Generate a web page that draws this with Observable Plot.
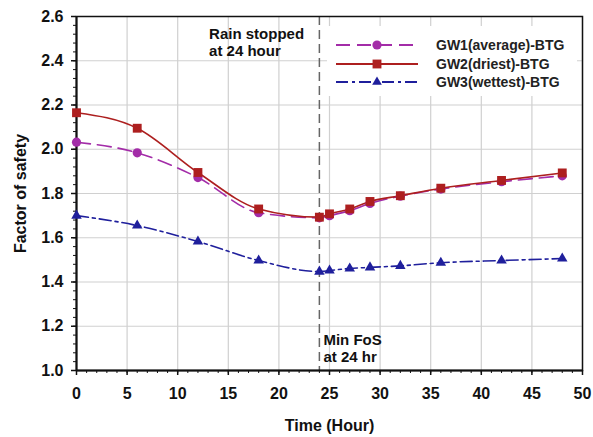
<!DOCTYPE html>
<html>
<head>
<meta charset="utf-8">
<script src="https://cdn.jsdelivr.net/npm/d3@7"></script>
<script src="https://cdn.jsdelivr.net/npm/@observablehq/plot@0.6"></script>
<style>
  body { margin: 0; background: #fff; }
  #wrap { position: relative; width: 593px; height: 437px; font-family: "Liberation Sans", Arial, sans-serif; }
  #legend { position: absolute; left: 327px; top: 26px; width: 250px; height: 70px; background: #fff; }
  .row { position: absolute; left: 0; height: 18px; display: flex; align-items: center; }
  .row span { font-weight: bold; font-size: 14px; color: #222; margin-left: 18px; }
</style>
</head>
<body>
<div id="wrap"><div id="legend"></div></div>
<script>
const hours = [0, 6, 12, 18, 24, 25, 27, 29, 32, 36, 42, 48];
const gw1 = [2.032, 1.984, 1.872, 1.713, 1.690, 1.700, 1.722, 1.755, 1.788, 1.820, 1.853, 1.880];
const gw2 = [2.165, 2.095, 1.895, 1.730, 1.693, 1.708, 1.730, 1.764, 1.790, 1.824, 1.859, 1.893];
const gw3 = [1.700, 1.655, 1.583, 1.497, 1.447, 1.452, 1.461, 1.466, 1.473, 1.487, 1.497, 1.506];
const seriesNames = ["GW1(average)-BTG", "GW2(driest)-BTG", "GW3(wettest)-BTG"];
const seriesColors = ["#a32ca8", "#ad1f1f", "#1f1f9c"];
const seriesDash = ["14,7", null, "12,4,3,4"];
const seriesSymbols = ["circle", "square", "triangle"];
const seriesR = [4.6, 5, 3.9];
const xTicks = [0, 5, 10, 15, 20, 25, 30, 35, 40, 45, 50];
const yTicks = [1.0, 1.2, 1.4, 1.6, 1.8, 2.0, 2.2, 2.4, 2.6];
const rainStop = 24;
const notes = [
  {x: 13.1, y: 2.485, text: "Rain stopped\nat 24 hour"},
  {x: 24.4, y: 1.102, text: "Min FoS\nat 24 hr"}
];

const allSeries = [gw1, gw2, gw3];
const rows = [];
allSeries.forEach((vals, i) => hours.forEach((h, j) => rows.push({series: seriesNames[i], idx: i, x: h, y: vals[j]})));

const minorX = d3.range(0, 51, 1);
const minorY = d3.range(0, 41).map(i => +(1 + i * 0.04).toFixed(2));

const marks = [
  Plot.gridX(xTicks, {stroke: "#d0d0d0", strokeOpacity: 1, strokeWidth: 1.2}),
  Plot.gridY(yTicks, {stroke: "#d0d0d0", strokeOpacity: 1, strokeWidth: 1.2}),
  Plot.axisX(minorX, {tickSize: 3, text: null, label: null, strokeWidth: 1}),
  Plot.axisY(minorY, {tickSize: 3, text: null, label: null, strokeWidth: 1}),
  Plot.axisX(xTicks, {tickSize: 5, tickPadding: 12, strokeWidth: 1.5, fontSize: 16, fontWeight: "bold",
    label: "Time (Hour)", labelAnchor: "center", labelOffset: 60, labelArrow: "none", tickFormat: d3.format("d")}),
  Plot.axisY(yTicks, {tickSize: 5, tickPadding: 8, strokeWidth: 1.5, fontSize: 16, fontWeight: "bold",
    label: "Factor of safety", labelAnchor: "center", labelOffset: 62, labelArrow: "none", tickFormat: d3.format(".1f")}),
  Plot.ruleX([rainStop], {stroke: "#666", strokeWidth: 1.5, strokeDasharray: "9,5"}),
  Plot.frame({stroke: "#111", strokeWidth: 1.5}),
  Plot.ruleX([0], {stroke: "#111", strokeWidth: 2}),
  Plot.ruleY([1.0], {stroke: "#111", strokeWidth: 2})
];
seriesNames.forEach((name, i) => {
  const d = rows.filter(r => r.idx === i);
  marks.push(Plot.line(d, {x: "x", y: "y", stroke: seriesColors[i], strokeWidth: 1.6, curve: "monotone-x",
    strokeDasharray: seriesDash[i] || undefined}));
});
seriesNames.forEach((name, i) => {
  const d = rows.filter(r => r.idx === i);
  marks.push(Plot.dot(d, {x: "x", y: "y", fill: seriesColors[i], stroke: "none", symbol: seriesSymbols[i],
    r: seriesR[i]}));
});
marks.push(Plot.text(notes, {x: "x", y: "y", text: "text", textAnchor: "start", fontSize: 15, fontWeight: "bold",
  fill: "#111", lineHeight: 1.15}));

const chart = Plot.plot({
  width: 593,
  height: 437,
  marginLeft: 76,
  marginRight: 11,
  marginTop: 16,
  marginBottom: 67,
  x: {domain: [0, 50]},
  y: {domain: [1.0, 2.6]},
  style: {fontFamily: "'Liberation Sans', Arial, sans-serif", fontWeight: "bold", fontSize: "16px", color: "#111", background: "#fff"},
  marks
});
document.getElementById("wrap").prepend(chart);

// legend
const legend = document.getElementById("legend");
const symPath = {
  circle: d3.symbol(d3.symbolCircle, Math.PI * 4.6 * 4.6)(),
  square: d3.symbol(d3.symbolSquare, Math.PI * 5 * 5)(),
  triangle: d3.symbol(d3.symbolTriangle, Math.PI * 3.6 * 3.6)()
};
seriesNames.forEach((name, i) => {
  const row = document.createElement("div");
  row.className = "row";
  row.style.top = (10 + i * 18.5) + "px";
  const dash = seriesDash[i] ? `stroke-dasharray="${seriesDash[i]}"` : "";
  row.innerHTML = `<svg width="82" height="18" style="margin-left:9px"><line x1="0" x2="82" y1="9" y2="9" stroke="${seriesColors[i]}" stroke-width="2" ${dash}/>` +
    `<path d="${symPath[seriesSymbols[i]]}" transform="translate(41,9)" fill="${seriesColors[i]}"/></svg><span>${name}</span>`;
  legend.appendChild(row);
});
</script>
</body>
</html>
